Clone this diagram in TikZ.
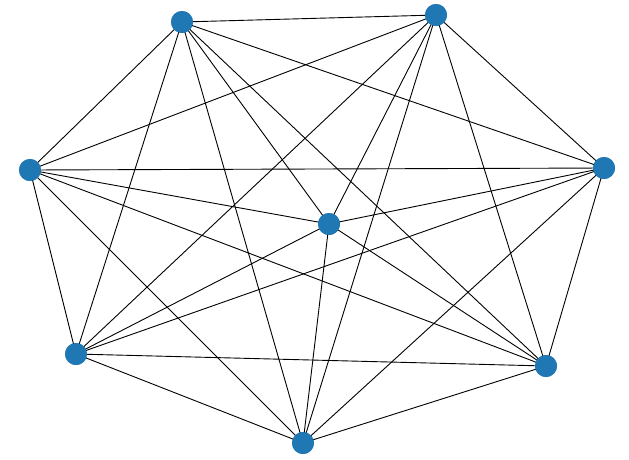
\documentclass[tikz,border=0pt]{standalone}
\definecolor{mplblue}{HTML}{1F77B4}
\begin{document}
\begin{tikzpicture}[x=1pt,y=-1pt,
  vert/.style={circle,fill=mplblue,inner sep=0pt,minimum size=22pt},
  edge/.style={black,line width=0.9pt}]
\useasboundingbox (0,0) rectangle (629,459);
\node[vert] (a) at (182,22) {};
\node[vert] (b) at (436,15) {};
\node[vert] (c) at (30,170) {};
\node[vert] (d) at (604,168) {};
\node[vert] (e) at (329,224) {};
\node[vert] (f) at (76,354) {};
\node[vert] (g) at (546,366) {};
\node[vert] (h) at (303,443) {};
\begin{scope}[on background layer/.style={}]
\foreach \u/\v in {a/b,a/c,a/d,a/e,a/f,a/g,a/h,b/c,b/d,b/e,b/f,b/g,b/h,c/d,c/e,c/f,c/g,c/h,d/e,d/f,d/g,d/h,e/f,e/g,e/h,f/g,f/h,g/h}
  \draw[edge] (\u.center) -- (\v.center);
\end{scope}
\foreach \n/\p in {a/{182,22},b/{436,15},c/{30,170},d/{604,168},e/{329,224},f/{76,354},g/{546,366},h/{303,443}}
  \fill[mplblue] (\n.center) circle (11);
\end{tikzpicture}
\end{document}
